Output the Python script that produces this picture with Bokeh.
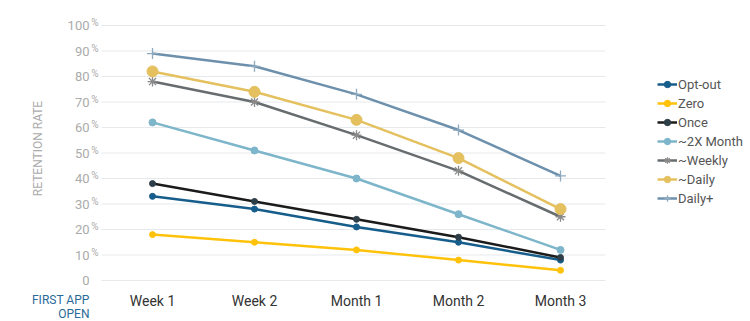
from bokeh.plotting import figure
from bokeh.models import Range1d, Legend, LegendItem, Label
from bokeh.core.properties import value
from bokeh.embed import file_html
from bokeh.resources import INLINE

categories = ["Week 1", "Week 2", "Month 1", "Month 2", "Month 3"]
y_ticks = [0, 10, 20, 30, 40, 50, 60, 70, 80, 90, 100]
y_tick_labels = ["0", "10", "20", "30", "40", "50", "60", "70", "80", "90", "100"]

opt_out = [33, 28, 21, 15, 8]
zero = [18, 15, 12, 8, 4]
once = [38, 31, 24, 17, 9]
twice_month = [62, 51, 40, 26, 12]
weekly = [78, 70, 57, 43, 25]
daily = [82, 74, 63, 48, 28]
daily_plus = [89, 84, 73, 59, 41]

series = [
    ("Opt-out", opt_out, "#165d8c", "#165d8c", "circle", 6),
    ("Zero", zero, "#ffc20a", "#ffc20a", "circle", 6),
    ("Once", once, "#1b1b1b", "#2e3e48", "circle", 6),
    ("~2X Month", twice_month, "#7db5ca", "#7db5ca", "circle", 7),
    ("~Weekly", weekly, "#676c6f", "#8a8a8a", "asterisk", 10),
    ("~Daily", daily, "#e4c05e", "#e4c05e", "circle", 11),
    ("Daily+", daily_plus, "#6d90ad", "#8fa9bf", "cross", 11),
]

FONT = "Roboto"
W, H = 750, 321

# pixel layout of the plotting area (frame covers the whole canvas)
LEFT_PX, FIRST_PX, STEP_PX, RIGHT_PX = 101, 152, 102, 605
TOP_PX, BOTTOM_PX = 25, 280
ppu_y = (BOTTOM_PX - TOP_PX) / 100.0

x0 = -0.5 - LEFT_PX / STEP_PX
x1 = -0.5 + (W - LEFT_PX) / STEP_PX
y0 = -(H - BOTTOM_PX) / ppu_y
y1 = 100 + TOP_PX / ppu_y


def px_x(px):
    return -0.5 + (px - LEFT_PX) / STEP_PX


def px_y(py):
    return (BOTTOM_PX - py) / ppu_y


p = figure(width=W, height=H, output_backend="svg", toolbar_location=None,
           x_range=Range1d(x0, x1), y_range=Range1d(y0, y1),
           min_border=0, x_axis_type=None, y_axis_type=None)
p.outline_line_color = None
p.xgrid.visible = False
p.ygrid.visible = False
p.background_fill_color = "white"
p.border_fill_color = "white"

xs = list(range(len(categories)))
gx0 = px_x(LEFT_PX)
gx1 = px_x(RIGHT_PX)

# gridlines
p.segment(x0=[gx0] * len(y_ticks), x1=[gx1] * len(y_ticks), y0=y_ticks, y1=y_ticks,
          line_color="#e6e9eb", line_width=1)

# y tick labels
p.text(x=[gx0] * len(y_ticks), y=y_ticks, text=y_tick_labels, x_offset=-12,
       text_align="right", text_baseline="middle", text_font=value(FONT),
       text_font_size="13px", text_color="#ababab")
p.text(x=[gx0] * (len(y_ticks) - 1), y=y_ticks[1:], text=["%"] * (len(y_ticks) - 1),
       x_offset=-3, y_offset=-3, text_align="right", text_baseline="middle",
       text_font=value(FONT), text_font_size="10px", text_color="#ababab")

# x tick labels
p.text(x=xs, y=[px_y(300)] * len(xs), text=categories, text_align="center",
       text_baseline="middle", text_font=value(FONT), text_font_size="14px",
       text_color="#333333")

items = []
for name, vals, lc, mc, marker, size in series:
    r1 = p.line(xs, vals, line_color=lc, line_width=2.5)
    if marker in ("asterisk", "cross"):
        r2 = p.scatter(xs, vals, marker=marker, size=size, line_color=mc, line_width=1.3)
    else:
        r2 = p.scatter(xs, vals, marker=marker, size=size, fill_color=mc, line_color=mc)
    items.append(LegendItem(label=name, renderers=[r1, r2]))

legend = Legend(items=items, location=(657, H - 206), margin=0, padding=0,
                border_line_alpha=0, background_fill_alpha=0,
                glyph_width=20, glyph_height=16, spacing=3, label_standoff=1,
                label_text_font=FONT, label_text_font_size="13px",
                label_text_color="#555555")
p.add_layout(legend, "center")

p.add_layout(Label(x=px_x(37), y=px_y(148), text="RETENTION RATE", angle=90,
                   angle_units="deg", text_align="center", text_baseline="middle",
                   text_font=FONT, text_font_size="12px", text_color="#ababab"))

p.add_layout(Label(x=px_x(89), y=px_y(299), text="FIRST APP",
                   text_align="right", text_baseline="middle",
                   text_font=FONT, text_font_size="12px", text_color="#2a6a98"))
p.add_layout(Label(x=px_x(89), y=px_y(313), text="OPEN",
                   text_align="right", text_baseline="middle",
                   text_font=FONT, text_font_size="12px", text_color="#2a6a98"))

open("out.html", "w").write(file_html(p, INLINE))
